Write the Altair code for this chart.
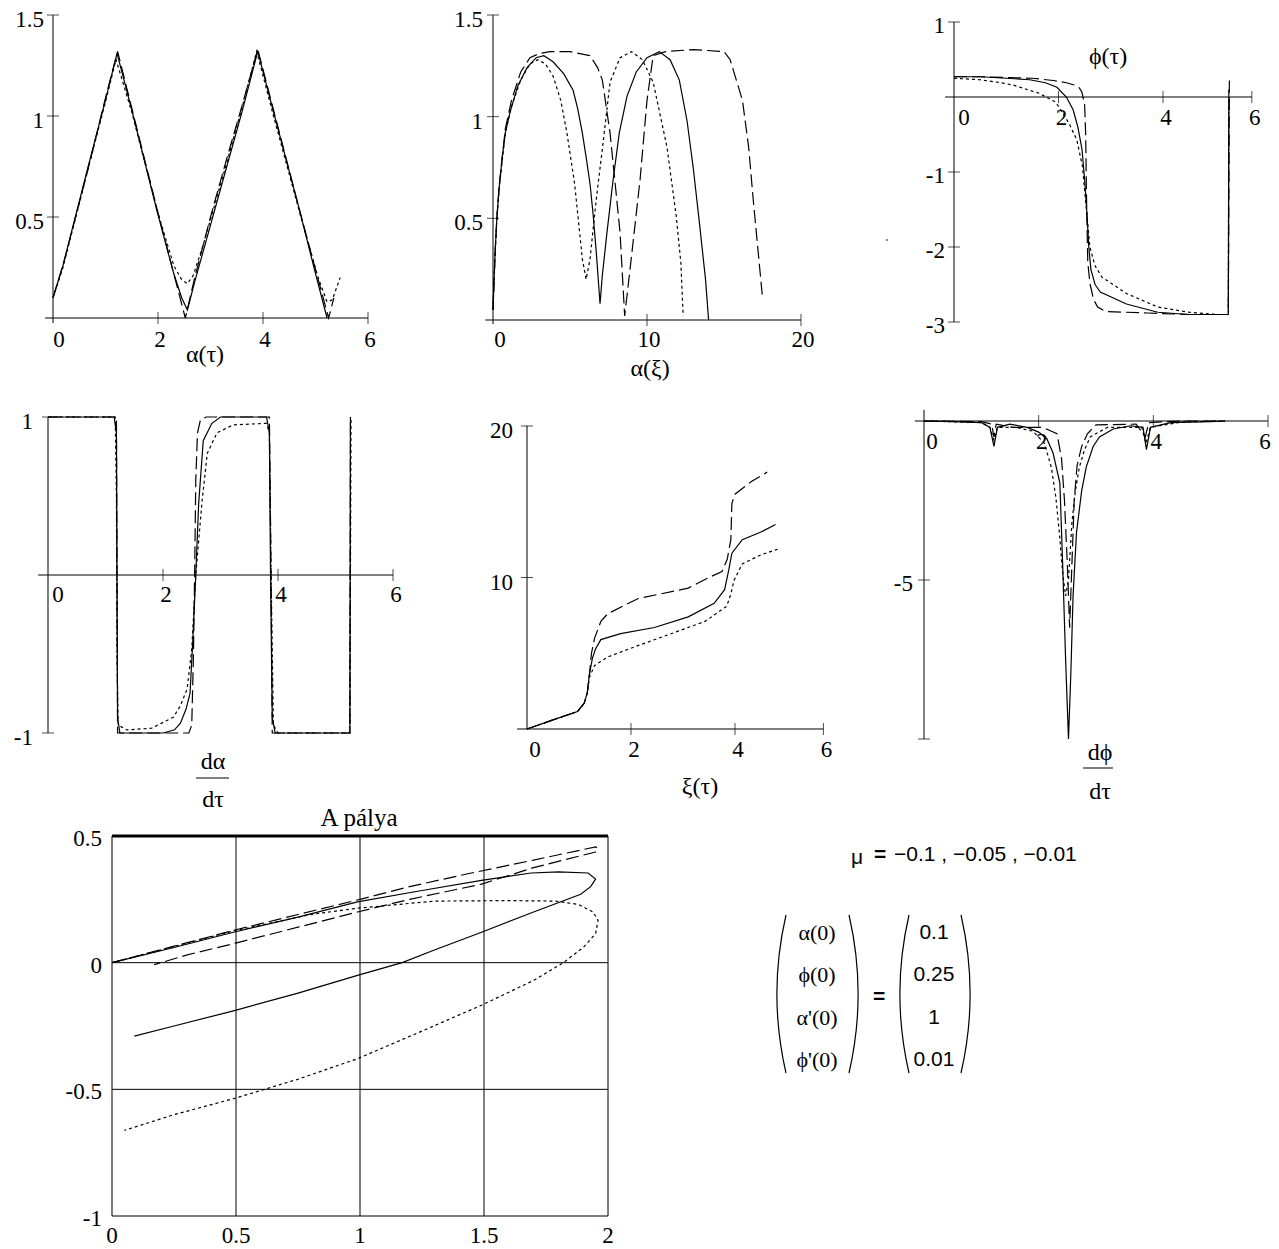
import math
import altair as alt
import pandas as pd

SERIF = "Liberation Serif"
SANS = "Liberation Sans"
FS = 23
TS = 24
M = 8  # page margin

# ---------------- data ----------------
# Panel 1: alpha(tau)
ALPHA_TAU_SOLID = [(0, 0.1), (0.19, 0.26), (0.67, 0.75), (1.0, 1.08), (1.22, 1.31), (1.5, 1.03), (1.98, 0.53),
                   (2.3, 0.22), (2.45, 0.1), (2.56, 0.04), (2.7, 0.18), (3.0, 0.46), (3.31, 0.75), (3.6, 1.02),
                   (3.9, 1.32), (4.2, 1.02), (4.7, 0.53), (5.0, 0.22), (5.22, 0.0)]
ALPHA_TAU_DOTTED = [(0, 0.1), (0.19, 0.25), (0.67, 0.74), (1.0, 1.07), (1.2, 1.28), (1.5, 1.02), (2.0, 0.52),
                    (2.3, 0.26), (2.45, 0.19), (2.56, 0.17), (2.67, 0.21), (2.86, 0.36), (3.3, 0.76), (3.6, 1.04),
                    (3.88, 1.32), (4.2, 1.0), (4.7, 0.52), (5.05, 0.2), (5.22, 0.08), (5.32, 0.09), (5.47, 0.2)]
ALPHA_TAU_DASHED = [(0, 0.1), (0.2, 0.27), (0.7, 0.77), (1.0, 1.09), (1.23, 1.32), (1.5, 1.04), (2.0, 0.52),
                    (2.3, 0.22), (2.52, 0.0), (2.7, 0.2), (3.0, 0.5), (3.3, 0.78), (3.6, 1.05), (3.9, 1.33),
                    (4.2, 1.03), (4.7, 0.53), (5.0, 0.24), (5.25, 0.0), (5.35, 0.1)]

# Panel 2: alpha(xi)
ALPHA_XI_SOLID = [(0, 0.05), (0.08, 0.22), (0.15, 0.35), (0.25, 0.5), (0.4, 0.65), (0.6, 0.8), (0.8, 0.92),
                  (1.1, 1.02), (1.6, 1.15), (2.2, 1.24), (2.8, 1.29), (3.3, 1.3), (3.9, 1.27), (4.6, 1.21),
                  (5.2, 1.13), (5.5, 1.04), (5.8, 0.92), (6.05, 0.8), (6.3, 0.67), (6.5, 0.52), (6.7, 0.34),
                  (6.95, 0.08), (7.1, 0.22), (7.4, 0.43), (7.8, 0.69), (8.2, 0.92), (8.7, 1.1), (9.3, 1.22),
                  (10.0, 1.29), (10.8, 1.32), (11.5, 1.28), (12.1, 1.18), (12.6, 0.98), (13.0, 0.75),
                  (13.4, 0.48), (13.8, 0.2), (14.0, 0.0)]
ALPHA_XI_DOTTED = [(0, 0.05), (0.08, 0.22), (0.15, 0.35), (0.25, 0.5), (0.4, 0.65), (0.8, 0.92), (1.2, 1.05),
                   (1.8, 1.18), (2.4, 1.26), (2.9, 1.28), (3.4, 1.26), (3.9, 1.2), (4.4, 1.08), (4.8, 0.92),
                   (5.3, 0.67), (5.6, 0.45), (5.8, 0.3), (6.05, 0.2), (6.3, 0.3), (6.7, 0.59), (7.1, 0.84),
                   (7.6, 1.17), (8.25, 1.29), (9.0, 1.32), (9.7, 1.28), (10.4, 1.17), (11.3, 0.85), (11.9, 0.51),
                   (12.2, 0.28), (12.35, 0.02)]
ALPHA_XI_DASHED = [(0, 0.05), (0.08, 0.22), (0.15, 0.35), (0.25, 0.5), (0.4, 0.66), (0.8, 0.94), (1.2, 1.08),
                   (1.8, 1.22), (2.4, 1.29), (3.0, 1.31), (3.7, 1.32), (5.0, 1.32), (6.3, 1.3), (6.8, 1.24),
                   (7.1, 1.18), (7.6, 0.92), (8.0, 0.62), (8.25, 0.43), (8.55, 0.02), (8.9, 0.25), (9.55, 0.69),
                   (10.0, 1.08), (10.4, 1.3), (11.2, 1.32), (13.0, 1.33), (15.0, 1.32), (15.4, 1.28),
                   (16.2, 1.08), (16.6, 0.85), (16.9, 0.59), (17.2, 0.35), (17.5, 0.11)]

# Panel 3: phi(tau)
PHI_SOLID = [(0, 0.27), (0.5, 0.27), (1.0, 0.25), (1.45, 0.23), (1.75, 0.19), (1.97, 0.13), (2.15, 0.0),
             (2.28, -0.17), (2.37, -0.4), (2.45, -0.7), (2.5, -1.1), (2.54, -1.5), (2.58, -2.0), (2.62, -2.3),
             (2.7, -2.5), (2.8, -2.6), (3.3, -2.76), (3.9, -2.87), (4.5, -2.9), (5.25, -2.9), (5.26, 0.1)]
PHI_DOTTED = [(0, 0.25), (0.5, 0.23), (0.9, 0.19), (1.13, 0.16), (1.4, 0.1), (1.63, 0.05), (1.95, -0.07),
              (2.2, -0.35), (2.35, -0.57), (2.46, -0.93), (2.52, -1.4), (2.56, -1.7), (2.6, -2.0), (2.7, -2.25),
              (2.83, -2.4), (3.3, -2.62), (3.9, -2.8), (4.5, -2.87), (5.0, -2.9), (5.25, -2.9), (5.26, 0.0)]
PHI_DASHED = [(0, 0.27), (0.5, 0.27), (1.0, 0.26), (1.5, 0.25), (1.9, 0.22), (2.15, 0.19), (2.3, 0.16),
              (2.4, 0.12), (2.45, 0.06), (2.5, -0.1), (2.52, -0.5), (2.54, -1.5), (2.56, -2.2), (2.6, -2.48),
              (2.67, -2.7), (2.75, -2.8), (2.9, -2.86), (3.7, -2.88), (4.5, -2.9), (5.25, -2.9), (5.27, 0.22)]

# Panel 4: d alpha / d tau
DALPHA_SOLID = [(0, 1), (1.15, 1), (1.19, 0.9), (1.2, 0), (1.21, -0.9), (1.25, -1), (2.0, -1), (2.2, -0.98),
                (2.3, -0.94), (2.4, -0.85), (2.47, -0.75), (2.52, -0.4), (2.57, 0), (2.62, 0.45), (2.7, 0.85),
                (2.85, 0.96), (3.0, 1), (3.8, 1), (3.85, 0.9), (3.87, 0), (3.9, -0.9), (3.95, -1), (5.25, -1),
                (5.26, 1)]
DALPHA_DOTTED = [(0, 1), (1.17, 1), (1.19, 0.5), (1.2, -0.5), (1.22, -0.95), (1.37, -0.98), (1.8, -0.97),
                 (2.18, -0.9), (2.3, -0.83), (2.42, -0.72), (2.5, -0.47), (2.57, 0), (2.68, 0.47), (2.77, 0.77),
                 (2.94, 0.9), (3.22, 0.95), (3.8, 0.96), (3.85, 0.9), (3.88, 0), (3.92, -0.95), (4.0, -1),
                 (5.25, -1), (5.27, 1)]
DALPHA_DASHED = [(0, 1), (1.19, 1), (1.2, 0), (1.21, -1), (2.45, -1), (2.5, -0.95), (2.53, -0.5), (2.55, 0),
                 (2.57, 0.6), (2.6, 0.9), (2.65, 0.98), (2.75, 1), (3.85, 1), (3.88, 0), (3.9, -1), (5.25, -1),
                 (5.26, 1)]

# Panel 5: xi(tau)
XI_SOLID = [(0, 0), (0.5, 0.6), (0.97, 1.15), (1.1, 1.7), (1.16, 2.4), (1.2, 3.6), (1.26, 4.7), (1.32, 5.3),
            (1.42, 5.9), (1.8, 6.3), (2.45, 6.7), (3.1, 7.4), (3.6, 8.3), (3.8, 9.2), (3.88, 10.5),
            (3.94, 11.6), (4.14, 12.5), (4.5, 13.0), (4.78, 13.5)]
XI_DOTTED = [(0, 0), (0.5, 0.6), (0.97, 1.15), (1.1, 1.7), (1.16, 2.4), (1.2, 3.4), (1.3, 4.2), (1.55, 4.75),
             (2.13, 5.5), (2.78, 6.3), (3.42, 7.1), (3.84, 8.1), (3.92, 8.9), (3.98, 9.8), (4.14, 10.9),
             (4.5, 11.5), (4.85, 11.9)]
XI_DASHED = [(0, 0), (0.5, 0.6), (0.97, 1.15), (1.1, 1.7), (1.16, 2.4), (1.2, 3.6), (1.24, 5.0), (1.3, 6.0),
             (1.42, 7.1), (1.55, 7.6), (2.13, 8.6), (3.1, 9.3), (3.5, 10.0), (3.75, 10.4), (3.85, 11.2),
             (3.92, 12.5), (3.94, 14.9), (4.0, 15.5), (4.3, 16.3), (4.62, 16.96)]

# Panel 6: d phi / d tau
DPHI_SOLID = [(0, 0), (0.5, -0.02), (1.0, -0.05), (1.15, -0.2), (1.22, -0.8), (1.28, -0.2), (1.5, -0.1),
              (1.8, -0.2), (2.0, -0.35), (2.14, -0.55), (2.25, -1.0), (2.37, -1.95), (2.42, -4.6), (2.47, -7.5),
              (2.52, -10.0), (2.56, -8.0), (2.6, -5.5), (2.66, -3.5), (2.75, -2.2), (2.83, -1.45), (2.95, -0.8),
              (3.06, -0.5), (3.3, -0.25), (3.6, -0.15), (3.82, -0.2), (3.88, -0.9), (3.95, -0.2), (4.3, -0.05),
              (5.0, -0.02), (5.25, 0)]
DPHI_DOTTED = [(0, 0), (1.0, -0.05), (1.15, -0.2), (1.22, -0.6), (1.28, -0.2), (1.6, -0.2), (1.9, -0.32),
               (2.1, -0.7), (2.22, -1.45), (2.3, -2.4), (2.36, -3.5), (2.42, -4.8), (2.47, -5.5), (2.52, -5.0),
               (2.58, -3.2), (2.64, -2.2), (2.71, -1.45), (2.8, -0.9), (2.9, -0.5), (3.2, -0.2), (3.8, -0.2),
               (3.87, -0.7), (3.95, -0.2), (4.5, -0.03), (5.25, 0)]
DPHI_DASHED = [(0, 0), (1.0, -0.02), (1.18, -0.1), (1.22, -0.5), (1.26, -0.1), (1.55, -0.2), (2.07, -0.2),
               (2.32, -0.4), (2.4, -1.2), (2.45, -2.5), (2.5, -4.5), (2.54, -6.5), (2.58, -4.5), (2.62, -2.5),
               (2.67, -1.4), (2.75, -0.8), (2.85, -0.4), (3.0, -0.12), (3.7, -0.1), (3.86, -0.5),
               (3.92, -0.05), (4.5, 0), (5.25, 0)]

# Panel 7: "A pálya" (trajectory)
PATH_SOLID = [(0, 0), (0.25, 0.06), (0.49, 0.12), (0.75, 0.18), (0.99, 0.24), (1.25, 0.285), (1.49, 0.325),
              (1.69, 0.354), (1.8, 0.358), (1.92, 0.354), (1.95, 0.33), (1.93, 0.3), (1.89, 0.27), (1.7, 0.2),
              (1.49, 0.12), (1.3, 0.05), (1.17, 0.0), (0.99, -0.05), (0.75, -0.12), (0.49, -0.19),
              (0.25, -0.25), (0.09, -0.29)]
PATH_DOTTED = [(0, 0), (0.49, 0.125), (0.8, 0.19), (0.99, 0.215), (1.3, 0.243), (1.6, 0.245), (1.79, 0.243),
               (1.88, 0.23), (1.94, 0.2), (1.96, 0.167), (1.95, 0.114), (1.9, 0.06), (1.82, 0.0), (1.7, -0.07),
               (1.49, -0.168), (1.25, -0.27), (0.99, -0.379), (0.75, -0.46), (0.49, -0.537), (0.25, -0.6),
               (0.05, -0.662)]
PATH_DASHED = [(0, 0), (0.25, 0.065), (0.5, 0.13), (0.75, 0.19), (1.0, 0.25), (1.2, 0.3), (1.43, 0.35),
               (1.7, 0.405), (1.95, 0.457), (1.96, 0.45), (1.95, 0.437), (1.7, 0.375), (1.49, 0.31),
               (1.2, 0.25), (0.99, 0.2), (0.75, 0.14), (0.49, 0.075), (0.3, 0.03), (0.17, -0.008)]

MU_TEXT = "\u22120.1 , \u22120.05 , \u22120.01"
INIT_NAMES = ["\u03b1(0)", "\u03d5(0)", "\u03b1'(0)", "\u03d5'(0)"]
INIT_VALUES = ["0.1", "0.25", "1", "0.01"]

DASH = {"solid": None, "dotted": [3, 3], "dashed": [13, 5]}


# ---------------- helpers ----------------
def scale(domain, prange):
    return alt.Scale(domain=domain, range=[prange[0] - M, prange[1] - M], nice=False, zero=False)


def pts(seq):
    return pd.DataFrame({"x": [p[0] for p in seq], "y": [p[1] for p in seq], "i": list(range(len(seq)))})


def enc_xy(xs, ys):
    return dict(x=alt.X("x:Q", scale=xs, axis=None), y=alt.Y("y:Q", scale=ys, axis=None))


def curves(series, xs, ys):
    out = []
    for seq, style in series:
        kw = dict(color="black", strokeWidth=1.2)
        if DASH[style]:
            kw["strokeDash"] = DASH[style]
        out.append(alt.Chart(pts(seq)).mark_line(**kw).encode(order="i:Q", **enc_xy(xs, ys)))
    return out


def hline(y, x0, x1, xs, ys, w=1.0):
    df = pd.DataFrame({"x": [x0], "x2": [x1], "y": [y]})
    return alt.Chart(df).mark_rule(color="black", strokeWidth=w).encode(
        x=alt.X("x:Q", scale=xs, axis=None), x2="x2:Q", y=alt.Y("y:Q", scale=ys, axis=None))


def vline(x, y0, y1, xs, ys, w=1.0):
    df = pd.DataFrame({"x": [x], "y": [y0], "y2": [y1]})
    return alt.Chart(df).mark_rule(color="black", strokeWidth=w).encode(
        x=alt.X("x:Q", scale=xs, axis=None), y=alt.Y("y:Q", scale=ys, axis=None), y2="y2:Q")


def ticks(vals, other, xs, ys, orient):
    if orient == "vertical":
        df = pd.DataFrame({"x": vals, "y": [other] * len(vals)})
    else:
        df = pd.DataFrame({"x": [other] * len(vals), "y": vals})
    return alt.Chart(df).mark_tick(color="black", orient=orient, size=12, thickness=1).encode(**enc_xy(xs, ys))


def labels(xv, yv, txt, xs, ys, dx=0, dy=0, align="center", size=FS):
    df = pd.DataFrame({"x": xv, "y": yv, "t": txt})
    return alt.Chart(df).mark_text(font=SERIF, fontSize=size, align=align, baseline="middle",
                                   dx=dx, dy=dy, color="black").encode(text="t:N", **enc_xy(xs, ys))


def ptext(txt, px, py, size=TS, font=SERIF, align="center", weight="normal"):
    return alt.Chart(pd.DataFrame({"t": [txt]})).mark_text(
        font=font, fontSize=size, align=align, baseline="middle", fontWeight=weight, color="black").encode(
        x=alt.value(px - M), y=alt.value(py - M), text="t:N")


def prule(x0, x1, py, w=1.0):
    return alt.Chart(pd.DataFrame({"t": [0]})).mark_rule(color="black", strokeWidth=w).encode(
        x=alt.value(x0 - M), x2=alt.value(x1 - M), y=alt.value(py - M))


def paren(px, py, half, depth, left):
    r = (half ** 2 + depth ** 2) / (2 * depth)
    a = math.asin(half / r)
    if left:
        cx, mid = px + r, 3 * math.pi / 2
    else:
        cx, mid = px - r, math.pi / 2
    return alt.Chart(pd.DataFrame({"t": [0]})).mark_arc(
        theta=mid - a, theta2=mid + a, innerRadius=r - 0.6, outerRadius=r + 0.6, color="black").encode(
        x=alt.value(cx - M), y=alt.value(py - M))


def mathcad_panel(series, xs, ys, xaxis, yaxis, xt, yt, xlab, ylab, xlab_dy, ylab_dx, zero_dx,
                  xlab_dx=2, ylab_dy=3, last_dx=None):
    layers = curves(series, xs, ys)
    layers.append(hline(0, xaxis[0], xaxis[1], xs, ys))
    layers.append(vline(0, yaxis[0], yaxis[1], xs, ys))
    layers.append(ticks(xt, 0, xs, ys, "vertical"))
    layers.append(ticks(yt, 0, xs, ys, "horizontal"))
    pos, txt = xlab
    layers.append(labels([pos[0]], [0], [txt[0]], xs, ys, dx=zero_dx, dy=xlab_dy))
    if last_dx is None:
        layers.append(labels(pos[1:], [0] * (len(pos) - 1), txt[1:], xs, ys, dx=xlab_dx, dy=xlab_dy))
    else:
        layers.append(labels(pos[1:-1], [0] * (len(pos) - 2), txt[1:-1], xs, ys, dx=xlab_dx, dy=xlab_dy))
        layers.append(labels([pos[-1]], [0], [txt[-1]], xs, ys, dx=last_dx, dy=xlab_dy))
    ypos, ytxt = ylab
    layers.append(labels([0] * len(ypos), ypos, ytxt, xs, ys, dx=ylab_dx, dy=ylab_dy, align="right"))
    return alt.layer(*layers)


# ---------------- panels ----------------
x1s, y1s = scale([0, 6], [53, 368]), scale([0, 1.5], [318, 15])
p1 = mathcad_panel([(ALPHA_TAU_SOLID, "solid"), (ALPHA_TAU_DOTTED, "dotted"), (ALPHA_TAU_DASHED, "dashed")],
                   x1s, y1s, (-0.15, 6), (-0.025, 1.5), [2, 4, 6], [0.5, 1, 1.5],
                   ([0, 2, 4, 6], ["0", "2", "4", "6"]), ([0.5, 1, 1.5], ["0.5", "1", "1.5"]),
                   22, -9, 6, ylab_dy=5)

x2s, y2s = scale([0, 20], [493, 801]), scale([0, 1.5], [320, 15])
p2 = mathcad_panel([(ALPHA_XI_SOLID, "solid"), (ALPHA_XI_DOTTED, "dotted"), (ALPHA_XI_DASHED, "dashed")],
                   x2s, y2s, (-0.5, 20), (-0.02, 1.5), [10, 20], [0.5, 1, 1.5],
                   ([0, 10, 20], ["0", "10", "20"]), ([0.5, 1, 1.5], ["0.5", "1", "1.5"]),
                   20, -10, 7, ylab_dy=5)

x3s, y3s = scale([0, 4], [954, 1163]), scale([-3, 1], [322, 22])
p3 = mathcad_panel([(PHI_SOLID, "solid"), (PHI_DOTTED, "dotted"), (PHI_DASHED, "dashed")],
                   x3s, y3s, (-0.17, 5.7), (-3, 1), [2, 4, 5.7], [1, -1, -2, -3],
                   ([0, 2, 4, 5.7], ["0", "2", "4", "6"]), ([1, -1, -2, -3], ["1", "-1", "-2", "-3"]),
                   21, -9, 10, 3, ylab_dy=4)

x4s, y4s = scale([0, 6], [48, 393]), scale([-1, 1], [733, 417])
p4 = mathcad_panel([(DALPHA_SOLID, "solid"), (DALPHA_DOTTED, "dotted"), (DALPHA_DASHED, "dashed")],
                   x4s, y4s, (-0.17, 6), (-1, 1), [2, 4, 6], [1, -1],
                   ([0, 2, 4, 6], ["0", "2", "4", "6"]), ([1, -1], ["1", "-1"]),
                   20, -15, 10, 3, ylab_dy=5)

x5s, y5s = scale([0, 4], [527, 735]), scale([0, 20], [729, 426])
p5 = mathcad_panel([(XI_SOLID, "solid"), (XI_DOTTED, "dotted"), (XI_DASHED, "dashed")],
                   x5s, y5s, (-0.19, 5.7), (0, 20), [2, 4, 5.7], [10, 20],
                   ([0, 2, 4, 5.7], ["0", "2", "4", "6"]), ([10, 20], ["10", "20"]),
                   21, -14, 8, 3, ylab_dy=5)

x6s, y6s = scale([0, 6], [924, 1268]), scale([-10, 0], [739, 421])
p6 = mathcad_panel([(DPHI_SOLID, "solid"), (DPHI_DOTTED, "dotted"), (DPHI_DASHED, "dashed")],
                   x6s, y6s, (-0.16, 6), (-10, 0.35), [2, 4, 6], [-5, -10],
                   ([0, 2, 4, 6], ["0", "2", "4", "6"]), ([-5], ["-5"]),
                   21, -11, 8, 3, ylab_dy=4, last_dx=-3)

# bottom framed plot
x7s, y7s = scale([0, 2], [112, 608]), scale([-1, 0.5], [1216, 836])
p7_layers = curves([(PATH_SOLID, "solid"), (PATH_DOTTED, "dotted"), (PATH_DASHED, "dashed")], x7s, y7s)
for gx in [0, 0.5, 1, 1.5, 2]:
    p7_layers.append(vline(gx, -1, 0.5, x7s, y7s))
for gy in [-1, -0.5, 0]:
    p7_layers.append(hline(gy, 0, 2, x7s, y7s))
p7_layers.append(hline(0.5, 0, 2, x7s, y7s, w=3))
p7_layers.append(labels([0] * 4, [0.5, 0, -0.5, -1], ["0.5", "0", "-0.5", "-1"], x7s, y7s,
                        dx=-10, dy=3, align="right"))
p7_layers.append(labels([0, 0.5, 1, 1.5, 2], [-1] * 5, ["0", "0.5", "1", "1.5", "2"], x7s, y7s, dy=20))
p7 = alt.layer(*p7_layers)

# ---------------- annotations ----------------
notes = [
    ptext("\u03b1(\u03c4)", 205, 355),
    ptext("\u03b1(\u03be)", 650, 369),
    ptext("\u03d5(\u03c4)", 1108, 57),
    ptext("d\u03b1", 213, 762), prule(196, 229, 778), ptext("d\u03c4", 213, 800),
    ptext("\u03be(\u03c4)", 700, 787),
    ptext("d\u03d5", 1100, 753), prule(1083, 1113, 768), ptext("d\u03c4", 1100, 792),
    ptext("A p\u00e1lya", 359, 818, size=25),
    ptext("\u03bc", 857, 858, size=21, font=SANS),
    ptext("=", 880, 855, size=21, font=SANS, weight="bold"),
    ptext(MU_TEXT, 894, 855, size=21, font=SANS, align="left"),
    ptext("=", 879, 997, size=21, font=SANS, weight="bold"),
    paren(777, 994, 79, 9, True), paren(858, 994, 79, 9, False),
    paren(900, 994, 79, 9, True), paren(970, 994, 79, 9, False),
]
for k, (nm, val) in enumerate(zip(INIT_NAMES, INIT_VALUES)):
    yy = [933, 975, 1018, 1060][k]
    notes.append(ptext(nm, 817, yy, size=22))
    notes.append(ptext(val, 934, yy, size=21, font=SANS))
notes.append(alt.Chart(pd.DataFrame({"t": [0]})).mark_square(size=3, color="black").encode(
    x=alt.value(887 - M), y=alt.value(240 - M)))

chart = alt.layer(p1, p2, p3, p4, p5, p6, p7, *notes).resolve_scale(
    x="independent", y="independent").properties(
    width=1263, height=1241, padding=0, autosize=alt.AutoSizeParams(type="none")
).configure_view(stroke=None)

chart.save("out.html", embed_options={"renderer": "svg", "actions": False})
